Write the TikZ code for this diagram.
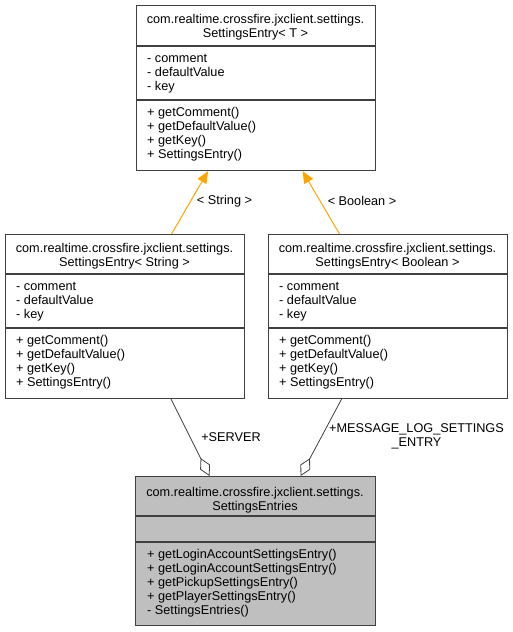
\documentclass[tikz,border=0pt]{standalone}
\usepackage{fontspec}
\setmainfont{Liberation Sans}
\usetikzlibrary{arrows.meta}
\definecolor{edge}{HTML}{404040}
\definecolor{inh}{HTML}{FFA500}
\definecolor{hl}{HTML}{BFBFBF}
\begin{document}
\begin{tikzpicture}[x=1pt,y=-1pt,
  every node/.style={font=\fontsize{12.7}{14}\selectfont, inner sep=0pt},
  classbox/.style={draw=edge, line width=1.1pt, fill=white, minimum width=239pt, anchor=north west},
  divider/.style={draw=edge, line width=1.1pt},
  ttl/.style={anchor=base, align=center},
  lst/.style={anchor=base west, align=left},
  inherit/.style={draw=inh, line width=1pt, -{Triangle[width=10pt,length=12pt]}, inh},
  aggr/.style={draw=edge, line width=0.8pt, -{Diamond[open,width=11pt,length=20pt,line width=0.8pt]}},
  lbl/.style={align=center}]
\useasboundingbox (0,0) rectangle (512,632);

% top template class
\node[classbox, minimum height=165pt] (top) at (136,5) {};
\draw[divider] (136,46) -- (375,46);
\draw[divider] (136,100) -- (375,100);
\node[ttl] (topT) at (255.5,37) {com.realtime.crossfire.jxclient.settings.\\SettingsEntry< T >};
\node[lst] (topA) at (147,90) {- comment\\- defaultValue\\- key};
\node[lst] (topM) at (147,158) {+ getComment()\\+ getDefaultValue()\\+ getKey()\\+ SettingsEntry()};

% String instance
\node[classbox, minimum height=164pt] (strE) at (5,234) {};
\draw[divider] (5,274) -- (244,274);
\draw[divider] (5,328) -- (244,328);
\node[ttl] (strT) at (124.5,266) {com.realtime.crossfire.jxclient.settings.\\SettingsEntry< String >};
\node[lst] (strA) at (16,318) {- comment\\- defaultValue\\- key};
\node[lst] (strM) at (16,386) {+ getComment()\\+ getDefaultValue()\\+ getKey()\\+ SettingsEntry()};

% Boolean instance
\node[classbox, minimum height=164pt] (boolE) at (268,234) {};
\draw[divider] (268,274) -- (507,274);
\draw[divider] (268,328) -- (507,328);
\node[ttl] (boolT) at (387.5,266) {com.realtime.crossfire.jxclient.settings.\\SettingsEntry< Boolean >};
\node[lst] (boolA) at (279,318) {- comment\\- defaultValue\\- key};
\node[lst] (boolM) at (279,386) {+ getComment()\\+ getDefaultValue()\\+ getKey()\\+ SettingsEntry()};

% SettingsEntries
\node[classbox, fill=hl, minimum width=240pt, minimum height=149pt] (entries) at (135,476) {};
\draw[divider] (135,516) -- (375,516);
\draw[divider] (135,542) -- (375,542);
\node[ttl] (entT) at (255,510) {com.realtime.crossfire.jxclient.settings.\\SettingsEntries};
\node[lst] (entM) at (147,614) {+ getLoginAccountSettingsEntry()\\+ getLoginAccountSettingsEntry()\\+ getPickupSettingsEntry()\\+ getPlayerSettingsEntry()\\- SettingsEntries()};

% inheritance
\draw[inherit] ([xshift=46.5pt]strE.north) -- ([xshift=-48pt]top.south);
\draw[inherit] ([xshift=-48.5pt]boolE.north) -- ([xshift=46.5pt]top.south);
\node[lbl] (lS) at (224.5,201) {< String >};
\node[lbl] (lB) at (362,201) {< Boolean >};

% aggregation
\draw[aggr] ([xshift=46pt]strE.south) -- ([xshift=-46pt]entries.north);
\draw[aggr] ([xshift=-46.5pt]boolE.south) -- ([xshift=45pt]entries.north);
\node[lbl] (lSrv) at (231,437) {+SERVER};
\node[lbl] (lMsg) at (416.5,436) {+MESSAGE\_LOG\_SETTINGS\\\_ENTRY};
\end{tikzpicture}
\end{document}
